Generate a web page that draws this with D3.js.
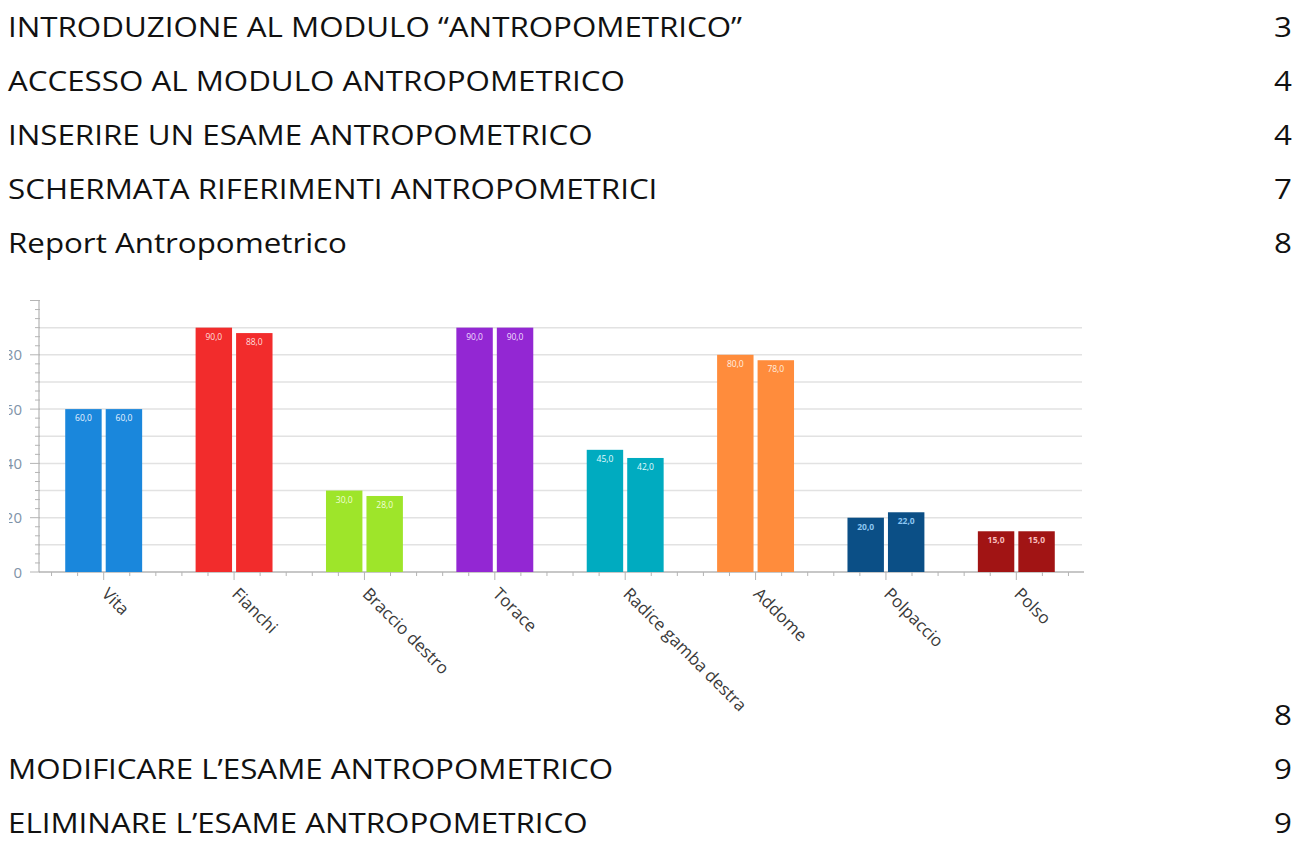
<!DOCTYPE html>
<html>
<head>
<meta charset="utf-8">
<script src="https://cdn.jsdelivr.net/npm/d3@7"></script>
<style>
	body { margin:0; background:#fff; }
	svg { display:block; }
</style>
</head>
<body>
<div id="page"></div>
<script>

////////////////////////////////////////
// data
////////////////////////////////////////

var categories = ['Vita','Fianchi','Braccio destro','Torace','Radice gamba destra','Addome','Polpaccio','Polso'];
var serie1 = [60, 90, 30, 90, 45, 80, 20, 15];
var serie2 = [60, 88, 28, 90, 42, 78, 22, 15];
var barColors = ['#1a87dc','#f22c2c','#9ee52a','#9327d3','#00abc0','#ff8c3c','#0b4f86','#a11414'];
var labelColors = ['#e8f3ff','#ffdede','#f0ffd8','#f0ddff','#e0fbff','#fff0e0','#8cc6f2','#f7bcbc'];
var yTicks = [0, 20, 40, 60, 80];
var yGrid = [10, 20, 30, 40, 50, 60, 70, 80, 90];

var tocTop = [
	['INTRODUZIONE AL MODULO \u201CANTROPOMETRICO\u201D','3'],
	['ACCESSO AL MODULO ANTROPOMETRICO','4'],
	['INSERIRE UN ESAME ANTROPOMETRICO','4'],
	['SCHERMATA RIFERIMENTI ANTROPOMETRICI','7'],
	['Report Antropometrico','8']
];
var tocBottom = [
	['','8'],
	['MODIFICARE L\u2019ESAME ANTROPOMETRICO','9'],
	['ELIMINARE L\u2019ESAME ANTROPOMETRICO','9']
];

////////////////////////////////////////
// page
////////////////////////////////////////

var W = 1296, H = 842;

var svg = d3.select('#page').append('svg')
	.attr('width',W)
	.attr('height',H);

var tocFont = "'Open Sans', 'Noto Sans', sans-serif";
var tocStretch = 1.16;

function drawToc(rows, y0){
	rows.forEach(function(r,i){
		var y = y0 + i*54;
		svg.append('text')
			.attr('transform','translate(8,' + y + ') scale(' + tocStretch + ',1)')
			.attr('font-family',tocFont)
			.attr('font-size',27)
			.attr('fill','#111')
			.text(r[0]);
		svg.append('text')
			.attr('transform','translate(1292,' + y + ') scale(' + tocStretch + ',1)')
			.attr('text-anchor','end')
			.attr('font-family',tocFont)
			.attr('font-size',27)
			.attr('fill','#111')
			.text(r[1]);
	});
}

drawToc(tocTop, 37);
drawToc(tocBottom, 725);

////////////////////////////////////////
// chart
////////////////////////////////////////

svg.append('clipPath')
	.attr('id','chartClip')
	.append('rect')
	.attr('x',9)
	.attr('y',296)
	.attr('width',1092)
	.attr('height',440);

var chart = svg.append('g').attr('clip-path','url(#chartClip)');

var plotL = 39, plotR = 1081, zeroY = 572;

var y = d3.scaleLinear()
	.domain([0,100])
	.range([zeroY, 300.5]);

var x0 = d3.scaleBand()
	.domain(categories)
	.range([38.5, 1081.5])
	.paddingInner(0.41)
	.paddingOuter(0.205);

var x1 = d3.scaleBand()
	.domain([0,1])
	.range([0, x0.bandwidth()])
	.paddingInner(0.1);

// grid
chart.selectAll('.grid')
	.data(yGrid)
	.enter().append('line')
	.attr('x1',plotL)
	.attr('x2',plotR + 1)
	.attr('y1',function(d){ return y(d); })
	.attr('y2',function(d){ return y(d); })
	.attr('stroke','#e2e2e2')
	.attr('stroke-width',1.5);

// y axis with minor ticks
chart.append('line')
	.attr('x1',plotL).attr('x2',plotL)
	.attr('y1',y(100)).attr('y2',zeroY)
	.attr('stroke','#b4b4b4')
	.attr('stroke-width',1.2);

var minor = d3.range(0, 100.01, 10/3);
chart.selectAll('.ymin')
	.data(minor)
	.enter().append('line')
	.attr('x1',function(d){ return Math.abs(d % 20) < 0.01 || Math.abs(d % 20 - 20) < 0.01 ? plotL - 9 : plotL - 4; })
	.attr('x2',plotL + 1)
	.attr('y1',function(d){ return y(d); })
	.attr('y2',function(d){ return y(d); })
	.attr('stroke','#b4b4b4')
	.attr('stroke-width',1);

chart.selectAll('.ylab')
	.data(yTicks)
	.enter().append('text')
	.attr('x',22)
	.attr('y',function(d){ return y(d) + 5.5; })
	.attr('text-anchor','end')
	.attr('font-family',"'Open Sans', sans-serif")
	.attr('font-size',15)
	.attr('fill','#7f93a8')
	.text(function(d){ return d; });

// x axis
chart.append('line')
	.attr('x1',plotL).attr('x2',plotR + 3)
	.attr('y1',zeroY).attr('y2',zeroY)
	.attr('stroke','#b4b4b4')
	.attr('stroke-width',1.5);

var step = x0.step();
var xt = [];
categories.forEach(function(c){
	var cx = x0(c) + x0.bandwidth()/2;
	for(var k=-2;k<=2;k++){ xt.push({x:cx + k*step/5, major:k===0}); }
});
xt.push({x:x0(categories[7]) + x0.bandwidth()/2 + 3*step/5, major:false});

chart.selectAll('.xt')
	.data(xt.filter(function(d){ return d.x > plotL + 2 && d.x < plotR + 4; }))
	.enter().append('line')
	.attr('x1',function(d){ return d.x; })
	.attr('x2',function(d){ return d.x; })
	.attr('y1',zeroY)
	.attr('y2',function(d){ return zeroY + (d.major ? 8 : 4); })
	.attr('stroke','#b4b4b4')
	.attr('stroke-width',1);

chart.selectAll('.xlab')
	.data(categories)
	.enter().append('text')
	.attr('transform',function(d){
		var cx = x0(d) + x0.bandwidth()/2 - 3;
		return 'translate(' + cx + ',' + (zeroY + 23) + ') rotate(45)';
	})
	.attr('font-family',"'Open Sans', sans-serif")
	.attr('font-size',17)
	.attr('fill','#3a3a3a')
	.text(function(d){ return d; });

// bars
var groups = chart.selectAll('.grp')
	.data(categories)
	.enter().append('g')
	.attr('transform',function(d){ return 'translate(' + x0(d) + ',0)'; });

groups.each(function(c,i){
	var g = d3.select(this);
	var vals = [serie1[i], serie2[i]];
	vals.forEach(function(v,j){
		g.append('rect')
			.attr('x',x1(j))
			.attr('y',y(v))
			.attr('width',x1.bandwidth())
			.attr('height',zeroY - y(v))
			.attr('fill',barColors[i]);
		g.append('text')
			.attr('x',x1(j) + x1.bandwidth()/2)
			.attr('y',y(v) + 12)
			.attr('text-anchor','middle')
			.attr('font-family',"'Open Sans', sans-serif")
			.attr('font-size',8.5)
			.attr('font-weight', i===6 || i===7 ? 'bold' : 'normal')
			.attr('fill',labelColors[i])
			.text(d3.format('.1f')(v).replace('.',','));
	});
});

</script>
</body>
</html>
